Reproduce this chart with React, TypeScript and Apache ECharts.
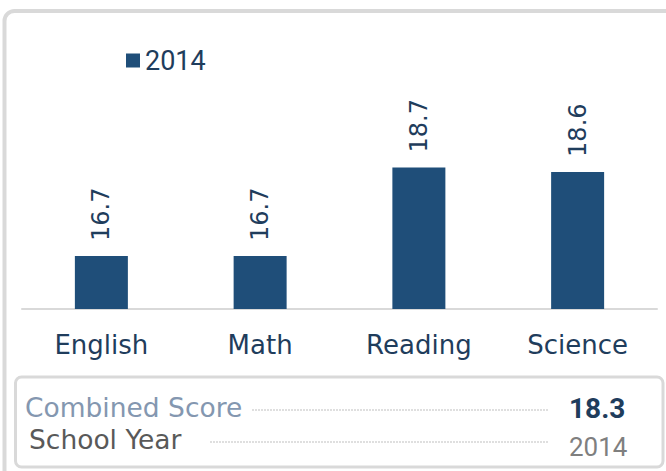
import React, { useEffect, useRef } from "react";
import * as echarts from "echarts";

const categories = ["English", "Math", "Reading", "Science"];
const seriesName = "2014";
const values2014 = [16.7, 16.7, 18.7, 18.6];
const summaryLabels = ["Combined Score", "School Year"];
const summaryValues = ["18.3", "2014"];

const BLUE = "#1F4E79";
const DARK = "#1F3D5C";
const GOTHIC = "'DejaVu Sans', sans-serif";
const NARROW = "'Liberation Sans Narrow', 'Roboto', sans-serif";

export default function App() {
  const ref = useRef<HTMLDivElement>(null);
  useEffect(() => {
    if (!ref.current) return;
    const chart = echarts.init(ref.current, undefined, { renderer: "svg" });
    chart.setOption({
      animation: false,
      backgroundColor: "#ffffff",
      legend: {
        data: [seriesName],
        left: 121,
        top: 42,
        icon: "rect",
        itemWidth: 14,
        itemHeight: 14,
        textStyle: { fontSize: 27, fontFamily: NARROW, color: DARK },
      },
      grid: { left: 22, right: 9, top: 110, bottom: 162 },
      xAxis: {
        type: "category",
        data: categories,
        axisLine: { lineStyle: { color: "#d9d9d9", width: 2 } },
        axisTick: { show: false },
        axisLabel: { fontSize: 26, fontFamily: GOTHIC, color: DARK, margin: 23 },
      },
      yAxis: {
        type: "value",
        min: 15.5,
        max: 20,
        show: false,
        splitLine: { show: false },
      },
      series: [
        {
          name: seriesName,
          type: "bar",
          data: values2014,
          barWidth: 53,
          itemStyle: { color: BLUE },
          label: {
            show: true,
            position: "top",
            rotate: 90,
            align: "left",
            verticalAlign: "middle",
            distance: 15,
            fontSize: 24,
            fontFamily: GOTHIC,
            color: DARK,
            formatter: (p: any) => p.value.toFixed(1),
          },
        },
      ],
      graphic: [
        {
          type: "rect",
          shape: { x: 4.5, y: 11, width: 720, height: 520, r: 10 },
          style: { fill: "none", stroke: "#d9d9d9", lineWidth: 4 },
          silent: true,
        },
        {
          type: "rect",
          shape: { x: 15.5, y: 377, width: 647.5, height: 90, r: 6 },
          style: { fill: "none", stroke: "#d9d9d9", lineWidth: 3 },
          silent: true,
        },
        {
          type: "text",
          x: 25,
          y: 407,
          style: {
            text: summaryLabels[0],
            fill: "#8497B0",
            fontSize: 26.5,
            fontFamily: GOTHIC,
            verticalAlign: "middle",
          },
        },
        {
          type: "line",
          shape: { x1: 252, y1: 410, x2: 548, y2: 410 },
          style: { stroke: "#bfbfbf", lineWidth: 1, lineDash: [2, 1] },
        },
        {
          type: "text",
          x: 569,
          y: 408,
          style: {
            text: summaryValues[0],
            fill: DARK,
            fontSize: 28,
            fontWeight: "bold",
            fontFamily: NARROW,
            verticalAlign: "middle",
          },
        },
        {
          type: "text",
          x: 29,
          y: 439,
          style: {
            text: summaryLabels[1],
            fill: "#595959",
            fontSize: 26.5,
            fontFamily: GOTHIC,
            verticalAlign: "middle",
          },
        },
        {
          type: "line",
          shape: { x1: 210, y1: 442, x2: 548, y2: 442 },
          style: { stroke: "#bfbfbf", lineWidth: 1, lineDash: [2, 1] },
        },
        {
          type: "text",
          x: 569,
          y: 447,
          style: {
            text: summaryValues[1],
            fill: "#7f7f7f",
            fontSize: 26,
            fontFamily: NARROW,
            verticalAlign: "middle",
          },
        },
      ],
    });
    return () => chart.dispose();
  }, []);
  return (
    <div
      ref={ref}
      style={{ position: "fixed", left: 0, top: 0, width: 666, height: 471 }}
    />
  );
}
